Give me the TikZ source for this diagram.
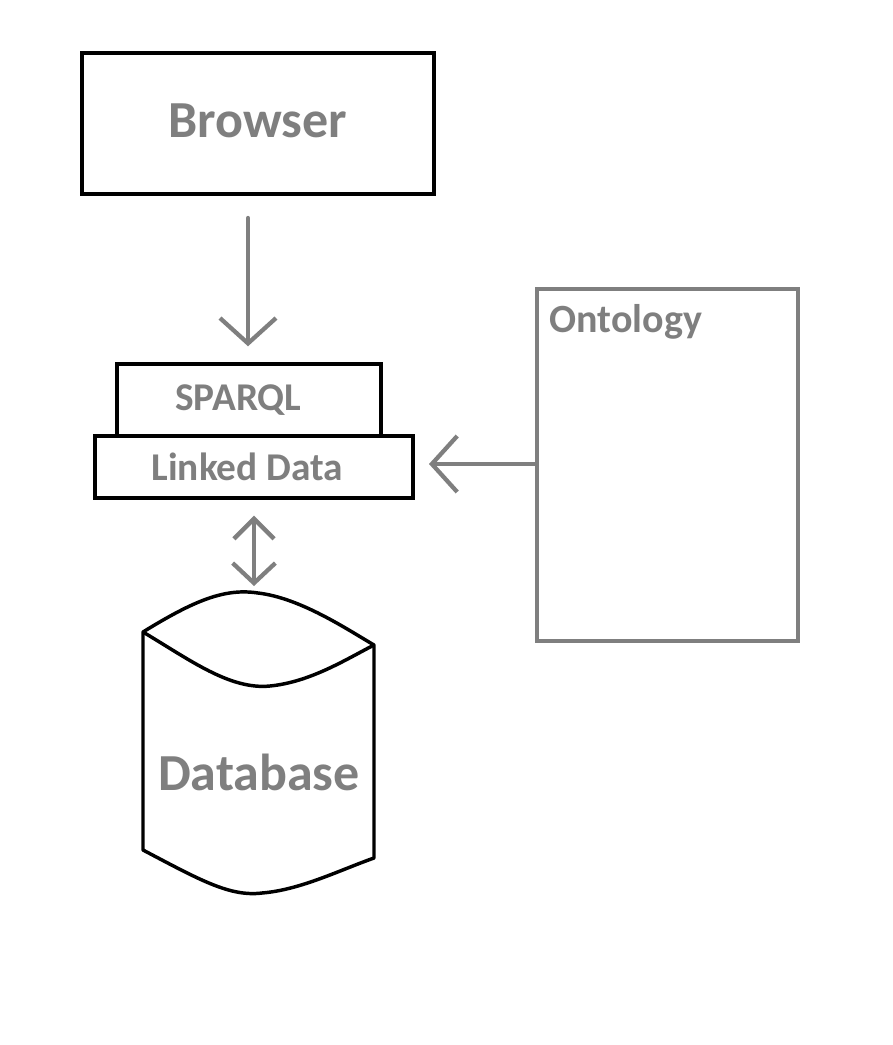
\documentclass[tikz,border=0pt]{standalone}
\usepackage{fontspec}
\setmainfont{Carlito}
\usetikzlibrary{arrows.meta}
\definecolor{linegray}{RGB}{127,127,127}

\begin{document}
\begin{tikzpicture}[x=0.75pt, y=-0.75pt,
  blackbox/.style={draw=black, line width=2.6pt, fill=white, font=\bfseries\fontsize{39}{44}\selectfont, text=linegray},
  smallbox/.style={blackbox, font=\bfseries\fontsize{29.5}{34}\selectfont},
  flow/.style={draw=linegray, line width=3.2pt, line cap=round, -{Straight Barb[length=19pt, width=42pt, line width=3.2pt]}}]
\useasboundingbox (0,0) rectangle (892,1045);
\node[blackbox, minimum width=264pt, minimum height=105.75pt] (browser) at (258,123.5) {\raisebox{4pt}{Browser}};
\node[smallbox, minimum width=198pt, minimum height=54pt] (sparql) at (249,400) {\hspace*{-16pt}SPARQL};
\node[smallbox, minimum width=238.5pt, minimum height=46.5pt] (linked) at (254,467) {\hspace*{-10pt}Linked Data};
\node[draw=linegray, line width=3.2pt, minimum width=195.75pt, minimum height=264pt] (onto) at (667.5,465) {};
\node[anchor=north west, text=linegray, font=\bfseries\fontsize{30}{34}\selectfont, inner sep=0pt] (ontolabel) at ([xshift=11pt, yshift=-13pt]onto.north west) {Ontology};
% database cylinder
\draw[line width=2.6pt, line join=round]
  (143,632) .. controls (195,600) and (225,588) .. (258,593) .. controls (300,598) and (345,628) .. (374,645)
  -- (374,858) .. controls (340,870) and (300,890) .. (262,893) .. controls (230,897) and (200,880) .. (143,850) -- cycle;
\draw[line width=2.6pt]
  (143,632) .. controls (190,660) and (230,690) .. (270,686) .. controls (310,682) and (345,660) .. (374,645);
\node[text=linegray, font=\bfseries\fontsize{39}{44}\selectfont] (db) at (259,772) {Database};
\coordinate (dbtop) at (254,586);
\coordinate (browserout) at (248,218);
\coordinate (ontoin) at (429,464);
\draw[flow] (browserout) -- ([yshift=12pt]browserout |- sparql.north);
\draw[flow] (onto.west |- ontoin) -- (ontoin);
\draw[flow, {Straight Barb[length=15pt, width=30pt, line width=3.2pt]}-{Straight Barb[length=15pt, width=32pt, line width=3.2pt]}] ([yshift=-12pt]linked.south) -- (dbtop);
\end{tikzpicture}
\end{document}
